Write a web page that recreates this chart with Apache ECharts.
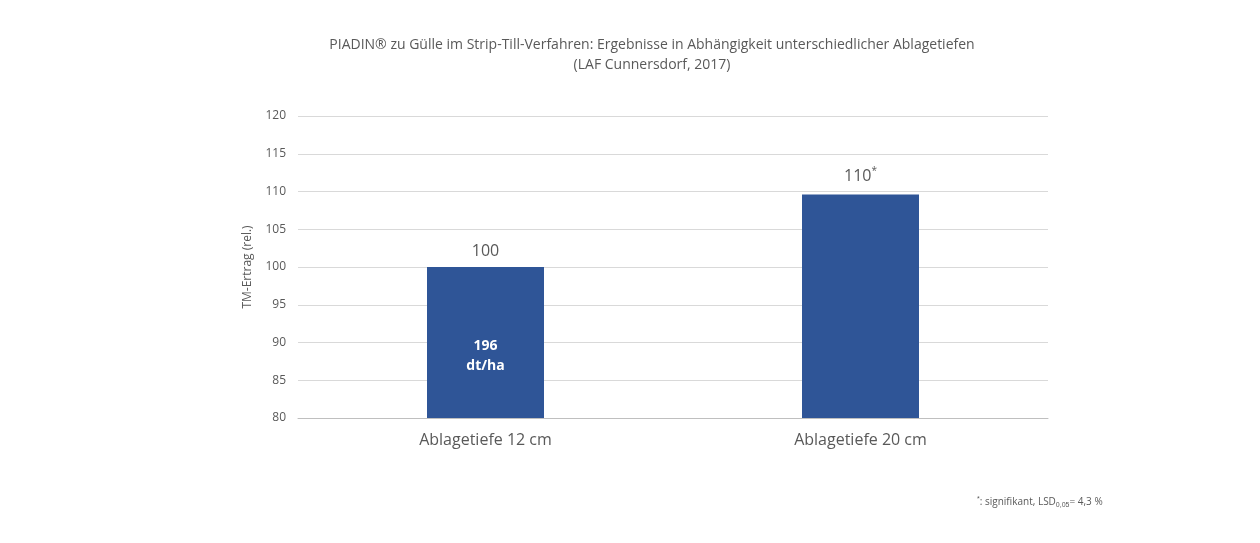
<!DOCTYPE html>
<html><head><meta charset="utf-8">
<script src="https://cdn.jsdelivr.net/npm/echarts@6/dist/echarts.min.js"></script>
<style>html,body{margin:0;background:#fff}#c{width:1260px;height:543px}</style>
</head><body><div id="c"></div>
<script>
const categories = ['Ablagetiefe 12 cm', 'Ablagetiefe 20 cm'];
const values = [100, 109.6];
const topLabels = ['100', '110{sup|*}'];
const innerLabels = ['196\ndt/ha', ''];

const chart = echarts.init(document.getElementById('c'));
const font = '"Open Sans", sans-serif';
chart.setOption({
  animation: false,
  textStyle: { fontFamily: font },
  title: {
    text: 'PIADIN® zu Gülle im Strip-Till-Verfahren: Ergebnisse in Abhängigkeit unterschiedlicher Ablagetiefen\n(LAF Cunnersdorf, 2017)',
    left: 647, top: 30, textAlign: 'center',
    textStyle: { fontSize: 14, fontWeight: 'normal', color: '#595959', lineHeight: 20, fontFamily: font }
  },
  grid: { left: 298, right: 212, top: 116, bottom: 125 },
  xAxis: {
    type: 'category', data: categories,
    axisLine: { lineStyle: { color: '#bfbfbf' } }, axisTick: { show: false },
    axisLabel: { fontSize: 16, color: '#595959', margin: 14 }
  },
  yAxis: {
    type: 'value', min: 80, max: 120, interval: 5,
    name: 'TM-Ertrag (rel.)', nameLocation: 'middle', nameGap: 44,
    nameTextStyle: { fontSize: 12, color: '#595959' },
    axisLine: { show: false }, axisTick: { show: false },
    axisLabel: { fontSize: 12, color: '#595959', margin: 12 },
    splitLine: { lineStyle: { color: '#d9d9d9' } }
  },
  series: [{
    type: 'bar', barWidth: 117,
    itemStyle: { color: '#2f5597' },
    data: values.map((v, i) => ({
      value: v,
      label: {
        show: true, position: 'top', distance: 8, formatter: topLabels[i],
        fontSize: 16, color: '#595959',
        rich: { sup: { fontSize: 10, verticalAlign: 'top', padding: [0, 0, 10, 0], color: '#595959' } }
      }
    }))
  }, {
    type: 'bar', barWidth: 117, barGap: '-100%', silent: true,
    itemStyle: { color: 'transparent' },
    data: values.map((v, i) => ({
      value: 91.5,
      label: {
        show: !!innerLabels[i], position: 'insideTop', formatter: innerLabels[i],
        fontSize: 14, fontWeight: 'bold', color: '#fff', lineHeight: 20
      }
    }))
  }],
  graphic: [{
    type: 'text', left: 977, top: 496,
    style: {
      text: '{s|*}: signifikant, LSD{b|0,05}= 4,3 %',
      fontSize: 10, fill: '#595959', fontFamily: font,
      rich: { s: { fontSize: 7, verticalAlign: 'top', padding: [0, 0, 6, 0] }, b: { fontSize: 7, padding: [6, 0, 0, 0] } }
    }
  }]
});
</script></body></html>
